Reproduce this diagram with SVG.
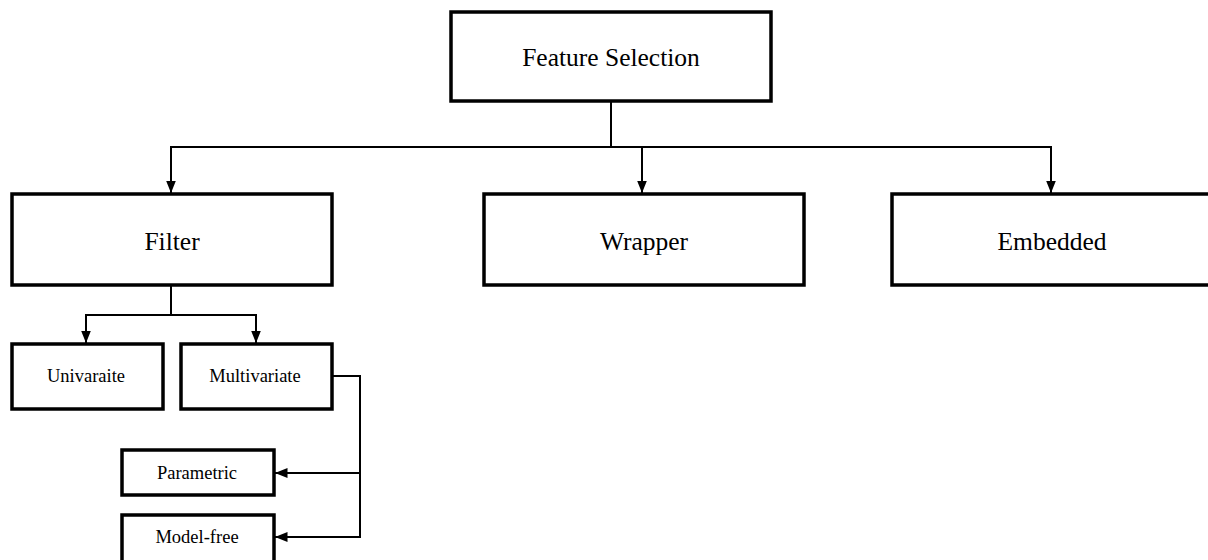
<svg xmlns="http://www.w3.org/2000/svg" width="1208" height="560" viewBox="0 0 1208 560">
<defs>
<marker id="arr" markerUnits="userSpaceOnUse" markerWidth="13" markerHeight="11" refX="12.5" refY="5" orient="auto">
<path d="M0,0 L12.5,5 L0,10 z" fill="#000"/>
</marker>
<style>
.box{fill:#fff;stroke:#000;stroke-width:3.5}
.big{font-family:"Liberation Serif","Times New Roman",serif;font-size:25.5px;fill:#000;text-anchor:middle}
.small{font-family:"Liberation Serif","Times New Roman",serif;font-size:18.5px;fill:#000;text-anchor:middle}
.ln{fill:none;stroke:#000;stroke-width:2}
</style>
</defs>
<rect width="1208" height="560" fill="#fff"/>
<g id="connectors">
<path class="ln" d="M611 101 V147"/>
<path class="ln" d="M611 147 H171 V193" marker-end="url(#arr)"/>
<path class="ln" d="M611 147 H1051 V193" marker-end="url(#arr)"/>
<path class="ln" d="M642 147 V193" marker-end="url(#arr)"/>
<path class="ln" d="M171 286 V315"/>
<path class="ln" d="M171 315 H86 V343" marker-end="url(#arr)"/>
<path class="ln" d="M171 315 H256 V343" marker-end="url(#arr)"/>
<path class="ln" d="M332 376 H360 V473 H275" marker-end="url(#arr)"/>
<path class="ln" d="M360 473 V537 H275" marker-end="url(#arr)"/>
</g>
<g id="feature-selection">
<rect class="box" x="451" y="12" width="320" height="89"/>
<text class="big" x="611" y="66">Feature Selection</text>
</g>
<g id="filter">
<rect class="box" x="12" y="194" width="320" height="91"/>
<text class="big" x="172" y="250">Filter</text>
</g>
<g id="wrapper">
<rect class="box" x="484" y="194" width="320" height="91"/>
<text class="big" x="644" y="250">Wrapper</text>
</g>
<g id="embedded">
<rect class="box" x="892" y="194" width="320" height="91"/>
<text class="big" x="1052" y="250">Embedded</text>
</g>
<g id="univaraite">
<rect class="box" x="12" y="344" width="151" height="65"/>
<text class="small" x="86" y="382">Univaraite</text>
</g>
<g id="multivariate">
<rect class="box" x="181" y="344" width="151" height="65"/>
<text class="small" x="255" y="382">Multivariate</text>
</g>
<g id="parametric">
<rect class="box" x="122" y="450" width="152" height="45"/>
<text class="small" x="197" y="479">Parametric</text>
</g>
<g id="model-free">
<rect class="box" x="122" y="515" width="152" height="52"/>
<text class="small" x="197" y="543">Model-free</text>
</g>
</svg>
